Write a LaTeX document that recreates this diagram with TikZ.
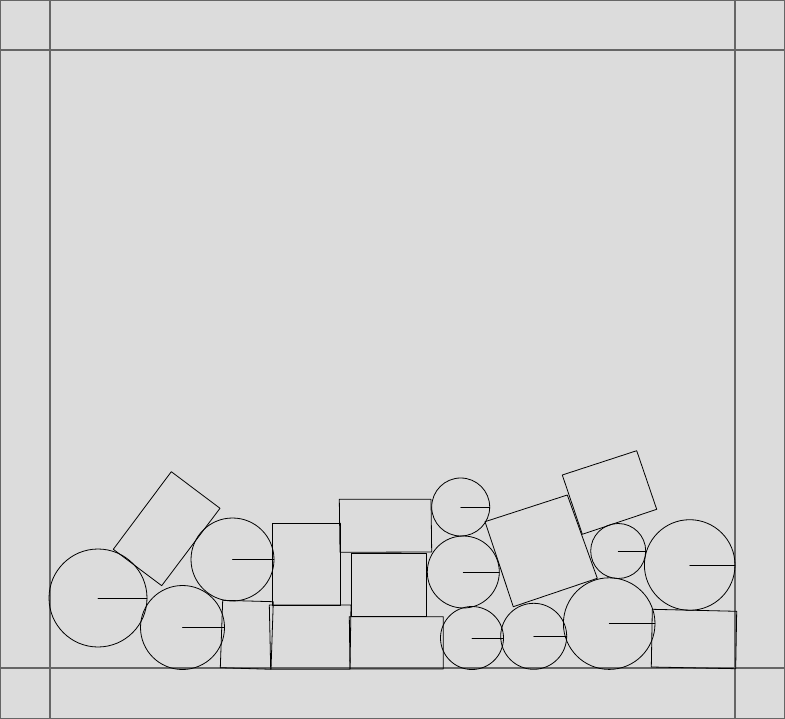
\documentclass[tikz,border=0pt]{standalone}
\usepackage{tikz}
\definecolor{boxgray}{HTML}{DCDCDC}
\definecolor{wallgray}{HTML}{666666}
\begin{document}
\begin{tikzpicture}[x=1pt,y=-1pt,line cap=round,line join=round,
  wall/.style={line width=1.4pt,draw=wallgray},
  body/.style={line width=0.8pt,draw=black}]
  \useasboundingbox (0,0) rectangle (785,719);
  \fill[boxgray] (0,0) rectangle (785,719);
  % walls
  \draw[wall] (0,0) rectangle (785,719);
  \draw[wall] (50,0) -- (50,719);
  \draw[wall] (735,0) -- (735,719);
  \draw[wall] (0,50) -- (785,50);
  \draw[wall] (0,668) -- (785,668);
  % balls: centre x, centre y, radius
  \foreach \cx/\cy/\r in {98/598/49, 182.5/627.5/42, 232.5/559.5/41.5,
      460.7/507/29, 463.3/572/36, 472/638/31.5,
      533.7/636.3/33, 609.2/623.6/45.8, 618.2/551/27.5, 689.7/565/45.3} {
    \draw[body] (\cx,\cy) circle[radius=\r];
    \draw[body] (\cx,\cy) -- ++(\r,0);
  }
  % blocks
  \draw[body] (171.3,471.7) -- (220,508.3) -- (161.7,585.7) -- (113.3,549.3) -- cycle;
  \draw[body] (222.7,600.3) -- (273.3,601.7) -- (271,669.3) -- (220.3,667.7) -- cycle;
  \draw[body] (272.7,523.3) -- (340.3,523.3) -- (340.3,605) -- (272.7,605) -- cycle;
  \draw[body] (269.3,605) -- (351,605) -- (350,669.3) -- (270.7,669.3) -- cycle;
  \draw[body] (339.3,499.3) -- (431,499.3) -- (431.7,552) -- (340,552.3) -- cycle;
  \draw[body] (351.3,553) -- (426.3,553) -- (426.3,616.3) -- (351.3,616.3) -- cycle;
  \draw[body] (349.3,616.7) -- (443.3,616.7) -- (443.3,669) -- (350,669) -- cycle;
  \draw[body] (485,521.7) -- (567.3,495) -- (597.3,578.3) -- (513.3,606.7) -- cycle;
  \draw[body] (562.3,475) -- (636.7,450.7) -- (656.7,509.3) -- (582.3,534.3) -- cycle;
  \draw[body] (652.3,609.3) -- (736.7,611.3) -- (735.7,668.7) -- (651.3,667) -- cycle;
\end{tikzpicture}
\end{document}
